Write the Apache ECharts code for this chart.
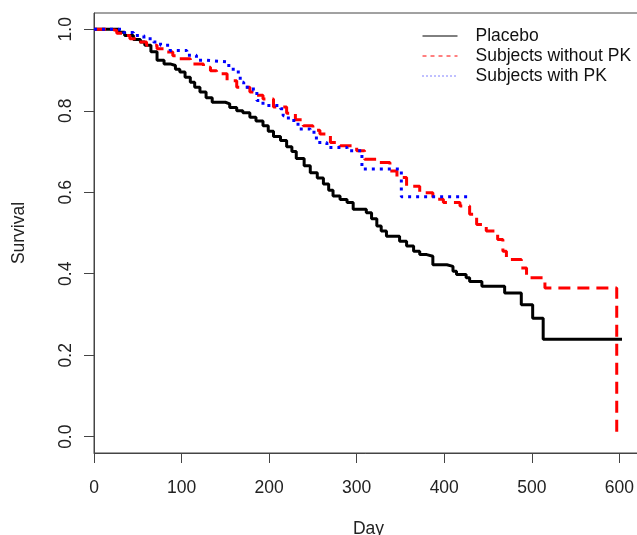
<!DOCTYPE html>
<html><head><meta charset="utf-8">
<script src="https://cdn.jsdelivr.net/npm/echarts@6/dist/echarts.min.js"></script>
<style>html,body{margin:0;padding:0;background:#fff}#c{width:637px;height:535px}</style>
</head><body><div id="c"></div>
<script>
const seriesNames = ['Placebo', 'Subjects without PK', 'Subjects with PK'];

const placeboDays = [0,28,35,45,53,58,65,72,80,87,93,98,104,110,115,121,128,135,150,155,163,170,178,185,193,199,205,213,220,226,231,240,247,255,262,268,273,281,289,296,311,317,323,328,334,349,357,365,372,380,387,403,410,414,425,429,443,469,488,501,513,603];
const placeboSurv = [1.0,0.993,0.985,0.975,0.969,0.961,0.945,0.924,0.915,0.911,0.902,0.895,0.882,0.870,0.858,0.846,0.832,0.821,0.817,0.808,0.800,0.795,0.784,0.775,0.763,0.750,0.737,0.727,0.712,0.700,0.683,0.665,0.648,0.635,0.620,0.605,0.591,0.582,0.575,0.558,0.550,0.535,0.517,0.505,0.492,0.480,0.468,0.455,0.447,0.443,0.422,0.418,0.406,0.398,0.390,0.381,0.369,0.353,0.324,0.291,0.239,0.239];

const noPkDays = [0,20,26,33,41,50,60,72,83,90,95,110,125,133,140,152,163,178,185,193,205,220,230,239,250,258,270,281,300,309,323,338,346,357,372,387,399,418,429,437,448,461,467,471,488,494,515,597];
const noPkSurv = [1.0,0.997,0.99,0.985,0.977,0.969,0.961,0.952,0.944,0.935,0.928,0.915,0.907,0.898,0.891,0.874,0.858,0.846,0.838,0.829,0.809,0.794,0.778,0.763,0.752,0.743,0.722,0.714,0.702,0.681,0.673,0.652,0.636,0.615,0.599,0.583,0.575,0.566,0.546,0.521,0.505,0.484,0.455,0.435,0.414,0.390,0.365,0.0];

const pkDays = [0,34,45,57,68,76,87,106,117,129,152,159,167,171,182,186,193,213,216,222,233,247,254,266,289,306,351,427];
const pkSurv = [1.0,0.992,0.985,0.977,0.969,0.961,0.948,0.936,0.924,0.920,0.911,0.895,0.870,0.858,0.850,0.825,0.813,0.805,0.788,0.776,0.755,0.747,0.722,0.710,0.702,0.657,0.589,0.589];

const xTicks = [0,100,200,300,400,500,600];
const yTicks = [0,0.2,0.4,0.6,0.8,1.0];

function pairs(xs, ys){ return xs.map((x,i)=>[x, ys[i]]); }

const FONT = 'Liberation Sans, Arial, sans-serif';
const chart = echarts.init(document.getElementById('c'), null, {renderer:'canvas'});
chart.setOption({
  animation: false,
  backgroundColor: '#fff',
  grid: {left: 94, top: 13, width: 549, bottom: 82, show: true, borderColor: '#444', borderWidth: 1,
         containLabel: false, outerBoundsMode: 'none'},
  xAxis: {
    type: 'value', min: 0, max: 627,
    name: 'Day', nameLocation: 'middle', nameGap: 67,
    nameTextStyle: {fontFamily: FONT, fontSize: 17.5, color: '#222'},
    axisLine: {show: true, onZero: false, lineStyle: {color: '#444', width: 1}},
    axisTick: {show: true, length: 10, customValues: xTicks, lineStyle: {color: '#444'}},
    axisLabel: {customValues: xTicks, margin: 26, fontFamily: FONT, fontSize: 17.5, color: '#222'},
    splitLine: {show: false}
  },
  yAxis: {
    type: 'value', min: -0.04, max: 1.04,
    name: 'Survival', nameLocation: 'middle', nameGap: 66, nameRotate: 90,
    nameTextStyle: {fontFamily: FONT, fontSize: 17.5, color: '#222'},
    axisLine: {show: true, onZero: false, lineStyle: {color: '#444', width: 1}},
    axisTick: {show: true, length: 10, customValues: yTicks, lineStyle: {color: '#444'}},
    axisLabel: {customValues: yTicks, rotate: 90, margin: 19, fontFamily: FONT, fontSize: 17.5, color: '#222',
      formatter: v => v.toFixed(1)},
    splitLine: {show: false}
  },
  legend: {
    orient: 'vertical', left: 422, top: 26, padding: 0,
    itemWidth: 35, itemHeight: 14, itemGap: 0,
    itemStyle: {color: 'rgba(0,0,0,0)', borderColor: 'rgba(0,0,0,0)', borderWidth: 0, opacity: 0},
    textStyle: {fontFamily: FONT, fontSize: 17.5, lineHeight: 20, color: '#111', padding: [0,0,0,13]},
    data: [
      {name: seriesNames[0], lineStyle: {width: 1, type: 'solid'}},
      {name: seriesNames[1], lineStyle: {width: 1, type: [4,4]}},
      {name: seriesNames[2], lineStyle: {width: 1, type: [1,3]}}
    ]
  },
  series: [
    {name: seriesNames[0], type: 'line', step: 'end', symbol: 'none', data: pairs(placeboDays, placeboSurv),
     color: '#000', lineStyle: {color: '#000', width: 3, type: 'solid'}},
    {name: seriesNames[1], type: 'line', step: 'end', symbol: 'none', data: pairs(noPkDays, noPkSurv),
     color: '#ff0000', lineStyle: {color: '#ff0000', width: 3, type: [12,7]}},
    {name: seriesNames[2], type: 'line', step: 'end', symbol: 'none', data: pairs(pkDays, pkSurv),
     color: '#0000ff', lineStyle: {color: '#0000ff', width: 3, type: [3,5]}}
  ]
});
</script>
</body></html>
